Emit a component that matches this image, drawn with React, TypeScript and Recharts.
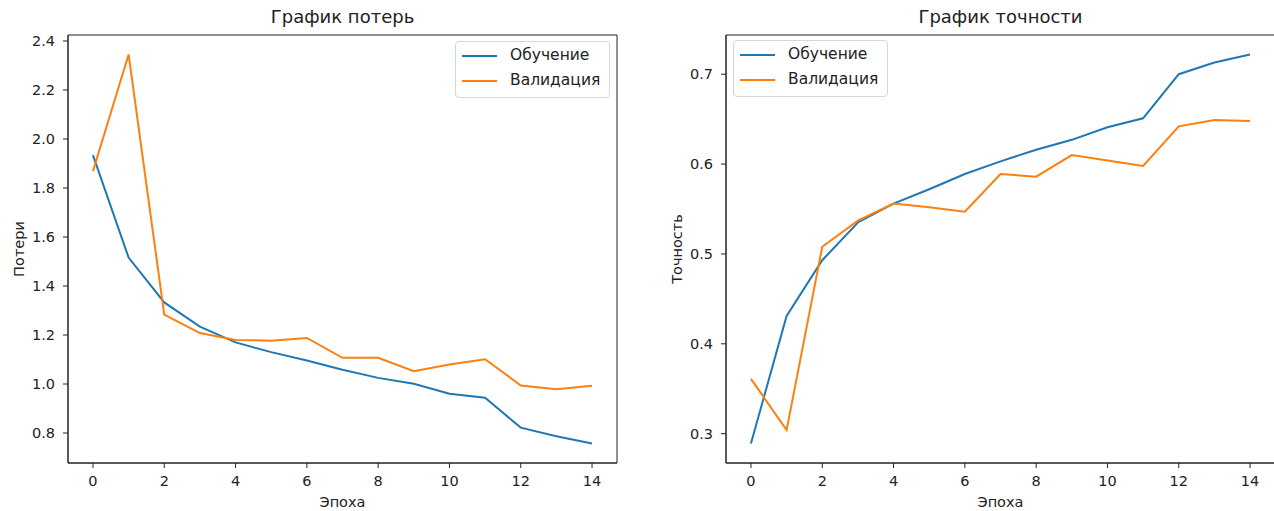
import React from "react";
import {
  LineChart,
  Line,
  XAxis,
  YAxis,
  Legend,
  Label,
  ReferenceArea,
} from "recharts";

const epochs = [0, 1, 2, 3, 4, 5, 6, 7, 8, 9, 10, 11, 12, 13, 14];
const epochTicks = [0, 2, 4, 6, 8, 10, 12, 14];

const trainLoss = [1.934, 1.516, 1.333, 1.234, 1.17, 1.13, 1.096, 1.058, 1.025, 1.001, 0.96, 0.944, 0.822, 0.787, 0.757];
const valLoss = [1.868, 2.345, 1.283, 1.208, 1.18, 1.177, 1.188, 1.107, 1.107, 1.052, 1.08, 1.101, 0.994, 0.979, 0.993];
const lossTicks = [0.8, 1.0, 1.2, 1.4, 1.6, 1.8, 2.0, 2.2, 2.4];

const trainAcc = [0.289, 0.431, 0.493, 0.535, 0.556, 0.572, 0.589, 0.603, 0.616, 0.627, 0.641, 0.651, 0.7, 0.713, 0.722];
const valAcc = [0.361, 0.304, 0.508, 0.537, 0.556, 0.552, 0.547, 0.589, 0.586, 0.61, 0.604, 0.598, 0.642, 0.649, 0.648];
const accTicks = [0.3, 0.4, 0.5, 0.6, 0.7];

const BLUE = "#1f77b4";
const ORANGE = "#ff7f0e";
const INK = "#222";
const FONT = "'DejaVu Sans', sans-serif";
const X_DOMAIN: [number, number] = [-0.7, 14.7];

// matplotlib-style 5% margins around the data
const pad = (vals: number[]): [number, number] => {
  const lo = Math.min(...vals);
  const hi = Math.max(...vals);
  const m = (hi - lo) * 0.05;
  return [lo - m, hi + m];
};

const LegendBox = () => (
  <div
    style={{
      border: "1px solid #d6d6d6",
      borderRadius: 4,
      background: "rgba(255,255,255,0.8)",
      padding: "1px 9px 4px 6px",
      fontFamily: FONT,
      fontSize: 15.5,
      color: INK,
    }}
  >
    {[
      { name: "Обучение", color: BLUE },
      { name: "Валидация", color: ORANGE },
    ].map((it) => (
      <div key={it.name} style={{ display: "flex", alignItems: "center", height: 25 }}>
        <svg width={35} height={4} style={{ display: "block" }}>
          <line x1={0} y1={2} x2={35} y2={2} stroke={it.color} strokeWidth={2} />
        </svg>
        <span style={{ marginLeft: 13, lineHeight: "25px" }}>{it.name}</span>
      </div>
    ))}
  </div>
);

interface PanelProps {
  title: string;
  yLabel: string;
  train: number[];
  val: number[];
  yTicks: number[];
  width: number;
  margin: { top: number; right: number; bottom: number; left: number };
  legendPos: { left: number; top: number };
}

function Panel({ title, yLabel, train, val, yTicks, width, margin, legendPos }: PanelProps) {
  const data = epochs.map((e, i) => ({ epoch: e, train: train[i], val: val[i] }));
  const yDomain = pad([...train, ...val]);
  const tickStyle = { fontSize: 14.5, fill: INK, fontFamily: FONT };

  return (
    <LineChart width={width} height={511} data={data} margin={margin}>
      <XAxis
        dataKey="epoch"
        type="number"
        domain={X_DOMAIN}
        allowDataOverflow
        ticks={epochTicks}
        tick={tickStyle}
        tickSize={5}
        tickMargin={8}
        height={48}
        stroke={INK}
      >
        <Label value="Эпоха" position="insideBottom" offset={4} style={{ fontSize: 14.5, fill: INK, fontFamily: FONT }} />
      </XAxis>
      <YAxis
        type="number"
        domain={yDomain}
        allowDataOverflow
        ticks={yTicks}
        tickFormatter={(v: number) => v.toFixed(1)}
        tick={tickStyle}
        tickSize={5}
        tickMargin={8}
        width={60}
        stroke={INK}
        label={{
          content: (p: any) => {
            const vb = p.viewBox;
            const x = vb.x + vb.width - 44;
            const y = vb.y + vb.height / 2;
            return (
              <text
                x={x}
                y={y}
                transform={`rotate(-90, ${x}, ${y})`}
                textAnchor="middle"
                style={{ fontSize: 14.5, fill: INK, fontFamily: FONT }}
              >
                {yLabel}
              </text>
            );
          },
        }}
      />
      {/* frame on all four sides, like matplotlib spines */}
      <ReferenceArea
        x1={X_DOMAIN[0]}
        x2={X_DOMAIN[1]}
        y1={yDomain[0]}
        y2={yDomain[1]}
        fill="none"
        fillOpacity={0}
        stroke={INK}
        strokeWidth={1}
        ifOverflow="visible"
      >
        <Label value={title} position="top" offset={12} style={{ fontSize: 18, fill: INK, fontFamily: FONT }} />
      </ReferenceArea>
      <Legend
        layout="vertical"
        align="center"
        verticalAlign="middle"
        content={() => <LegendBox />}
        wrapperStyle={{ left: legendPos.left, top: legendPos.top, width: "auto", right: "auto", bottom: "auto" }}
      />
      <Line type="linear" dataKey="train" name="Обучение" stroke={BLUE} strokeWidth={2} dot={false} isAnimationActive={false} />
      <Line type="linear" dataKey="val" name="Валидация" stroke={ORANGE} strokeWidth={2} dot={false} isAnimationActive={false} />
    </LineChart>
  );
}

export default function App() {
  return (
    <div
      style={{
        position: "absolute",
        left: 0,
        top: 0,
        width: 1274,
        height: 511,
        overflow: "hidden",
        background: "#fff",
      }}
    >
      <div style={{ position: "absolute", left: 0, top: 0 }}>
        <Panel
          title="График потерь"
          yLabel="Потери"
          train={trainLoss}
          val={valLoss}
          yTicks={lossTicks}
          width={640}
          margin={{ top: 35, right: 23, bottom: 0, left: 8 }}
          legendPos={{ left: 455, top: 41 }}
        />
      </div>
      <div style={{ position: "absolute", left: 640, top: 0 }}>
        <Panel
          title="График точности"
          yLabel="Точность"
          train={trainAcc}
          val={valAcc}
          yTicks={accTicks}
          width={640}
          margin={{ top: 35, right: 5, bottom: 0, left: 26 }}
          legendPos={{ left: 93, top: 40 }}
        />
      </div>
    </div>
  );
}
